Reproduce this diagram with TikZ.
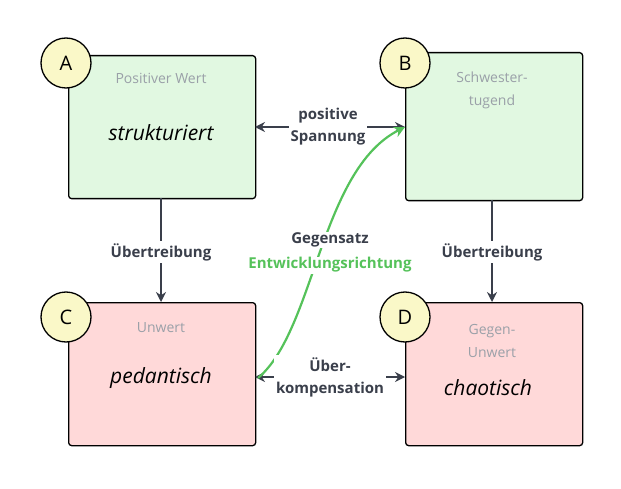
\documentclass[tikz,border=0pt]{standalone}
\usepackage{fontspec}
\setmainfont{Open Sans}
\usetikzlibrary{arrows.meta,positioning}
\definecolor{pgreen}{HTML}{E1F8E1}
\definecolor{pred}{HTML}{FFD9D9}
\definecolor{pyellow}{HTML}{FAF8C8}
\definecolor{ink}{HTML}{3A3F4B}
\definecolor{hint}{HTML}{9AA0A8}
\definecolor{arrowgreen}{HTML}{55C25A}
\tikzset{
  box/.style={draw,line width=1.3pt,rounded corners=3pt,anchor=north west},
  tag/.style={draw,circle,line width=1.3pt,fill=pyellow,minimum size=50pt,inner sep=0,font=\fontsize{20}{20}\selectfont},
  head/.style={text=hint,font=\fontsize{14}{23}\selectfont,align=center},
  value/.style={font=\fontsize{21}{21}\selectfont\itshape},
  lbl/.style={text=ink,font=\fontsize{15}{22}\selectfont\bfseries,align=center,fill=white,inner sep=2pt},
  link/.style={draw=ink,line width=1.2pt,-{Stealth[length=10pt,width=10pt]}}
}
\begin{document}
\begin{tikzpicture}[x=1pt,y=-1pt]
  \useasboundingbox (0,0) rectangle (621,489);
  % Kaesten
  \node[box,fill=pgreen,minimum width=187pt,minimum height=143pt] (A) at (68,55) {};
  \node[box,fill=pgreen,minimum width=177pt,minimum height=148pt] (B) at (405,52) {};
  \node[box,fill=pred,minimum width=187pt,minimum height=143pt] (C) at (68,302) {};
  \node[box,fill=pred,minimum width=177pt,minimum height=143pt] (D) at (405,302) {};
  % Texte
  \node[head] (ah) at (161,78) {Positiver Wert};
  \node[value] (av) at (161,133) {strukturiert};
  \node[head] (bh) at (492,90) {Schwester-\\tugend};
  \node[head] (ch) at (161,328) {Unwert};
  \node[value] (cv) at (161,378) {pedantisch};
  \node[head] (dh) at (492,341) {Gegen-\\Unwert};
  \node[value] (dv) at (488,388) {chaotisch};
  % Kreise
  \node[tag] (ta) at (66,63) {A};
  \node[tag] (tb) at (405,63) {B};
  \node[tag] (tc) at (66,317) {C};
  \node[tag] (td) at (405,317) {D};
  % Verbindungen
  \coordinate (ar) at (255,127);
  \coordinate (bl) at (405,127);
  \coordinate (cr) at (255,377);
  \coordinate (dl) at (405,377);
  \draw[link,{Stealth[length=10pt,width=10pt]}-{Stealth[length=10pt,width=10pt]}] (ar) -- (bl);
  \draw[link,{Stealth[length=10pt,width=10pt]}-{Stealth[length=10pt,width=10pt]}] (cr) -- (dl);
  \draw[link] (161,198) -- (161,302);
  \draw[link] (492,200) -- (492,302);
  \draw[draw=arrowgreen,line width=2.2pt,-{Stealth[length=11pt,width=11pt]}]
    (258,378) .. controls (315,330) and (320,170) .. (bl);
  % Beschriftungen
  \node[lbl] (ps) at (328,127) {positive\\Spannung};
  \node[lbl] (uk) at (330,377) {Über-\\kompensation};
  \node[lbl] (ua) at (161,252) {Übertreibung};
  \node[lbl] (ub) at (492,252) {Übertreibung};
  \node[lbl,inner sep=1pt] (gs) at (330,240) {Gegensatz};
  \node[lbl,text=arrowgreen,inner sep=1pt] (ew) at (330,265) {Entwicklungsrichtung};
\end{tikzpicture}
\end{document}
